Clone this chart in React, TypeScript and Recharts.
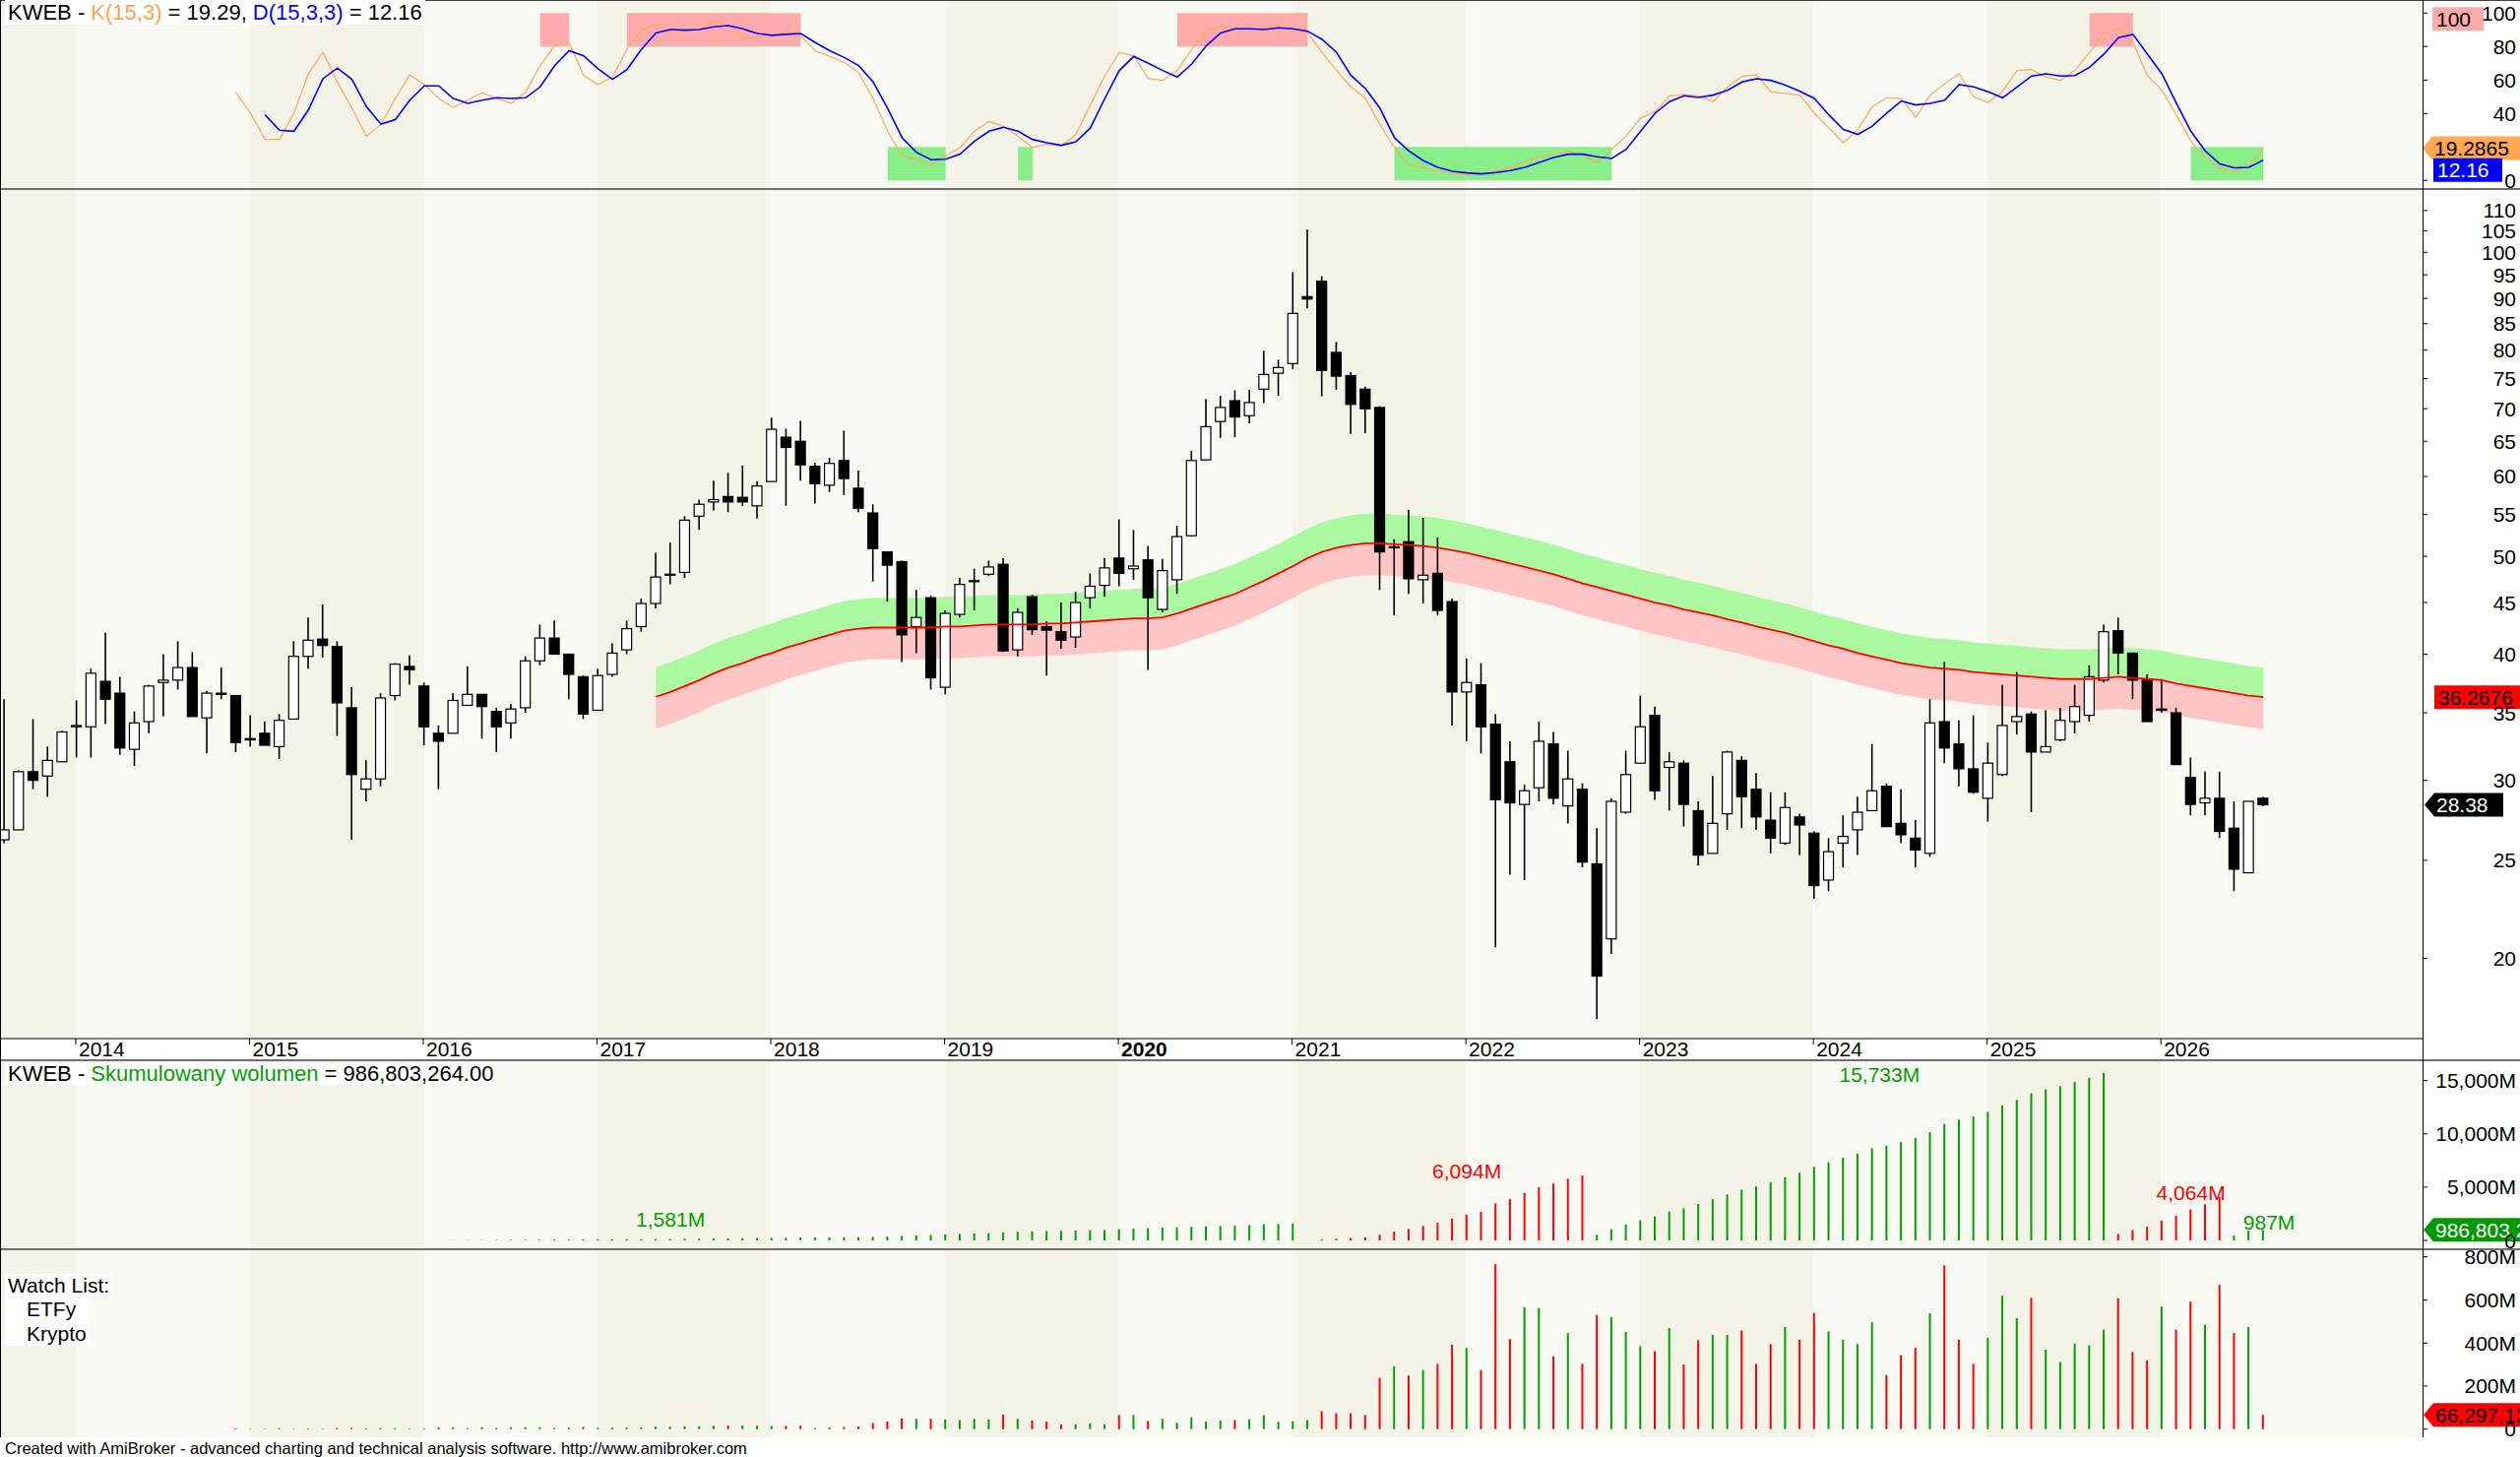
import React from 'react'
import { Area, Bar, ComposedChart, Line, ReferenceArea, ReferenceDot, XAxis, YAxis } from 'recharts'

// monthly bars, index 0 = Aug 2013
const OPEN = [26.2, 26.8, 30.6, 30.3, 31.3, 33.9, 33.9, 37.6, 36.6, 32.2, 34.3, 37.5, 37.7, 38.8, 34.6, 36.6, 36.4, 33.0, 33.4, 32.4, 34.5, 39.8, 41.4, 40.7, 35.4, 29.4, 30.1, 36.4, 38.9, 37.2, 33.4, 33.4, 35.6, 36.5, 35.1, 34.2, 35.4, 39.4, 41.5, 40.0, 38.0, 35.2, 38.2, 40.4, 42.6, 44.9, 47.9, 48.2, 54.8, 56.6, 57.3, 57.2, 56.1, 59.3, 65.6, 65.0, 61.4, 58.8, 62.2, 58.4, 55.2, 50.5, 49.4, 42.6, 45.5, 37.1, 43.8, 47.2, 48.0, 49.1, 40.4, 45.6, 42.6, 42.1, 41.6, 45.5, 46.8, 49.8, 48.6, 49.6, 44.3, 47.4, 52.4, 62.3, 68.0, 71.3, 68.9, 73.2, 75.9, 77.6, 90.4, 93.6, 79.6, 75.5, 73.2, 70.2, 51.1, 51.7, 47.4, 48.1, 45.1, 36.7, 37.3, 34.1, 31.3, 28.4, 29.5, 32.6, 28.3, 29.4, 24.8, 20.9, 27.9, 31.2, 34.8, 30.9, 31.2, 28.0, 25.4, 27.8, 31.4, 29.4, 27.4, 26.0, 27.6, 26.6, 23.9, 26.0, 26.8, 28.0, 29.6, 27.2, 26.3, 25.4, 34.3, 32.6, 30.8, 28.8, 30.4, 34.3, 34.9, 32.0, 32.9, 34.3, 34.8, 37.7, 42.2, 40.1, 37.8, 35.3, 35.0, 30.2, 28.5, 28.8, 26.9, 24.3, 28.8]
const HIGH = [36.1, 30.7, 34.5, 32.4, 33.6, 36.0, 38.7, 42.0, 38.0, 35.1, 37.3, 40.0, 41.2, 40.2, 36.8, 38.8, 36.4, 34.8, 34.3, 34.9, 41.2, 43.5, 44.8, 41.2, 37.1, 31.4, 36.6, 39.2, 39.9, 37.5, 34.0, 36.6, 38.9, 36.5, 35.4, 35.7, 39.8, 42.8, 43.2, 40.0, 38.1, 38.7, 41.0, 43.2, 45.4, 50.4, 51.6, 54.8, 56.9, 59.4, 60.5, 61.5, 59.3, 68.6, 66.9, 68.1, 61.9, 62.6, 66.6, 60.8, 56.3, 50.5, 49.5, 46.3, 45.7, 44.2, 47.6, 48.6, 49.5, 49.8, 44.4, 45.8, 43.1, 45.0, 46.1, 48.1, 49.8, 54.4, 53.1, 51.2, 49.7, 53.6, 63.6, 71.6, 72.1, 73.0, 73.1, 79.9, 78.3, 95.6, 105.3, 94.7, 81.5, 76.1, 73.6, 70.4, 52.0, 55.6, 54.6, 52.2, 45.4, 39.6, 39.2, 34.9, 32.8, 29.7, 34.3, 33.5, 32.1, 29.8, 26.9, 28.8, 32.1, 36.4, 35.5, 32.0, 31.4, 28.6, 30.3, 32.1, 31.7, 30.5, 29.2, 29.2, 27.8, 26.7, 26.3, 27.7, 28.9, 32.6, 29.8, 29.4, 27.4, 36.1, 39.3, 34.4, 34.8, 32.7, 37.3, 38.4, 35.1, 35.2, 35.4, 37.3, 39.0, 42.8, 43.5, 40.1, 38.2, 37.8, 35.4, 31.6, 30.6, 30.6, 28.6, 28.6, 28.9]
const LOW = [26.0, 26.8, 29.4, 28.9, 31.3, 31.6, 31.6, 34.1, 31.8, 31.0, 33.4, 34.7, 36.9, 34.7, 31.9, 36.1, 32.0, 32.4, 32.5, 31.5, 34.5, 38.7, 39.7, 33.2, 26.2, 28.6, 29.6, 36.0, 37.3, 32.5, 29.4, 33.4, 35.6, 33.0, 32.0, 33.0, 35.0, 39.0, 40.0, 36.1, 34.5, 35.2, 38.0, 40.0, 42.1, 44.4, 46.9, 47.6, 53.1, 55.5, 55.3, 56.1, 54.5, 59.3, 56.1, 59.4, 56.4, 57.9, 57.5, 55.3, 47.2, 45.1, 39.3, 40.1, 36.9, 36.5, 43.5, 44.2, 47.8, 40.2, 39.8, 41.8, 38.1, 40.5, 40.6, 44.4, 45.6, 46.7, 47.4, 38.6, 44.0, 45.9, 52.3, 62.2, 65.5, 65.6, 67.7, 70.9, 72.1, 76.6, 88.0, 72.0, 73.1, 66.1, 66.2, 46.3, 43.7, 45.9, 44.9, 43.7, 34.0, 32.8, 31.9, 20.5, 24.2, 23.9, 28.6, 28.4, 27.2, 24.6, 17.4, 20.2, 27.8, 31.2, 28.7, 28.0, 27.0, 24.7, 25.4, 26.8, 26.9, 26.8, 25.4, 25.9, 25.3, 22.9, 23.3, 24.6, 25.3, 28.0, 27.0, 26.0, 24.6, 25.2, 31.2, 29.6, 29.1, 27.3, 30.3, 33.3, 27.9, 32.0, 32.8, 33.4, 34.3, 37.5, 38.2, 36.1, 34.3, 35.0, 31.1, 27.7, 27.7, 26.3, 23.3, 24.3, 28.3]
const CLOSE = [26.8, 30.6, 30.0, 31.4, 33.5, 34.0, 38.3, 36.1, 32.3, 34.2, 37.2, 37.7, 38.8, 34.7, 36.6, 36.5, 32.7, 32.9, 32.5, 34.4, 39.8, 41.3, 40.8, 35.8, 30.4, 30.1, 36.2, 39.1, 38.6, 33.9, 32.8, 36.0, 36.5, 35.5, 33.9, 35.3, 39.4, 41.5, 40.0, 38.2, 34.9, 38.1, 40.1, 42.4, 44.9, 47.7, 48.0, 54.3, 56.3, 56.9, 56.6, 56.6, 58.7, 66.8, 64.1, 61.6, 59.0, 61.8, 59.7, 55.8, 50.9, 49.0, 41.8, 43.5, 37.9, 43.9, 46.9, 47.3, 48.8, 40.3, 44.0, 42.3, 42.25, 41.3, 45.0, 46.7, 48.7, 48.1, 48.9, 45.5, 48.4, 52.3, 62.2, 67.2, 70.2, 68.7, 71.0, 75.7, 76.9, 87.0, 89.9, 76.4, 75.4, 70.7, 70.0, 50.5, 51.0, 47.5, 47.9, 44.2, 36.7, 37.5, 33.9, 28.7, 28.5, 29.3, 32.8, 28.8, 30.1, 24.9, 19.2, 28.6, 30.4, 33.9, 29.3, 31.3, 28.4, 25.3, 27.2, 32.0, 28.9, 27.6, 26.3, 28.2, 27.1, 23.6, 25.5, 26.4, 27.9, 29.3, 27.0, 26.5, 25.6, 34.2, 32.3, 30.8, 29.2, 31.2, 34.0, 34.7, 32.0, 32.4, 34.4, 35.5, 38.0, 42.1, 40.1, 37.7, 34.3, 35.2, 31.1, 28.4, 28.8, 26.7, 24.5, 28.6, 28.38]

// moving average, first value at bar 45
const MA_START = 45
const MA = [36.3, 36.7, 37.2, 37.7, 38.3, 38.8, 39.2, 39.7, 40.1, 40.6, 41.0, 41.4, 41.8, 42.2, 42.4, 42.5, 42.5, 42.5, 42.5, 42.5, 42.6, 42.6, 42.7, 42.8, 42.8, 42.8, 42.8, 42.9, 42.9, 43.0, 43.1, 43.2, 43.3, 43.4, 43.4, 43.5, 43.9, 44.4, 44.9, 45.4, 45.9, 46.6, 47.3, 48.1, 48.9, 49.8, 50.5, 51.0, 51.3, 51.5, 51.5, 51.4, 51.3, 51.2, 51.0, 50.7, 50.4, 50.0, 49.6, 49.2, 48.8, 48.4, 48.0, 47.5, 47.0, 46.6, 46.2, 45.8, 45.4, 45.0, 44.7, 44.3, 44.0, 43.7, 43.3, 43.0, 42.6, 42.3, 42.0, 41.6, 41.2, 40.8, 40.5, 40.1, 39.8, 39.5, 39.2, 39.0, 38.8, 38.7, 38.6, 38.4, 38.3, 38.2, 38.1, 38.0, 37.9, 37.8, 37.8, 37.8, 37.9, 38.0, 37.9, 37.8, 37.7, 37.4, 37.2, 37.0, 36.8, 36.6, 36.4, 36.2676]
const BAND = 0.07

// stochastic
const K_START = 16
const K = [52.4, 40.2, 24.5, 24.5, 40.2, 63.7, 76.5, 58.8, 43.1, 26.5, 33.3, 49.0, 63.1, 57.3, 49.0, 43.5, 48.0, 52.4, 49.0, 46.1, 52.9, 68.6, 80.4, 82.4, 62.7, 57.3, 61.8, 78.4, 90.2, 93.1, 88.2, 89.2, 90.2, 95.1, 92.2, 85.3, 85.3, 87.3, 88.8, 86.3, 77.5, 74.1, 70.6, 64.3, 49.0, 29.4, 14.7, 13.1, 8.8, 14.7, 19.6, 29.4, 35.3, 32.4, 26.5, 19.6, 21.6, 20.6, 27.5, 45.1, 62.7, 76.5, 74.5, 60.8, 59.8, 65.7, 78.4, 89.2, 92.2, 91.2, 90.6, 91.2, 92.5, 89.8, 88.2, 76.5, 65.7, 55.9, 49.0, 33.3, 19.6, 9.2, 7.8, 5.5, 3.9, 3.5, 3.9, 5.9, 7.8, 11.4, 14.1, 15.7, 17.3, 15.7, 10.4, 18.6, 26.5, 37.3, 41.2, 50.6, 51.4, 50.6, 47.1, 55.9, 62.2, 63.1, 52.9, 52.0, 51.0, 40.2, 31.4, 22.5, 30.4, 44.1, 49.4, 49.0, 37.8, 51.0, 57.8, 63.7, 50.0, 46.7, 53.3, 65.7, 66.3, 61.8, 59.8, 65.7, 76.5, 88.2, 90.2, 82.4, 62.7, 53.9, 39.2, 23.5, 13.7, 7.5, 5.5, 8.8, 19.29]
const D_START = 18
const D = [39.2, 30.0, 29.4, 42.2, 60.8, 67.1, 60.4, 44.1, 33.7, 36.3, 48.0, 56.5, 56.5, 49.0, 46.1, 48.0, 49.4, 49.0, 49.4, 55.9, 68.6, 77.5, 74.5, 66.7, 60.4, 66.3, 78.4, 88.2, 90.2, 89.8, 90.2, 91.8, 92.5, 90.6, 87.8, 86.7, 87.3, 87.8, 82.4, 77.5, 73.5, 68.6, 58.8, 43.1, 25.5, 16.7, 12.4, 12.7, 15.7, 23.5, 29.4, 31.8, 29.4, 24.5, 22.5, 21.0, 23.1, 31.4, 49.0, 65.7, 74.1, 70.0, 65.7, 61.8, 69.6, 80.4, 88.2, 90.6, 90.6, 90.2, 91.2, 90.6, 89.2, 84.3, 76.5, 62.7, 54.9, 43.1, 25.5, 17.6, 11.8, 7.8, 5.5, 4.5, 3.9, 4.7, 5.9, 7.8, 10.8, 13.7, 15.7, 15.7, 14.1, 13.1, 18.6, 29.4, 40.2, 47.1, 50.6, 49.6, 51.0, 53.9, 58.8, 60.8, 59.8, 56.9, 53.3, 49.0, 39.2, 30.4, 27.5, 32.4, 40.2, 47.5, 45.1, 46.1, 48.0, 57.3, 55.9, 52.9, 49.4, 55.9, 62.4, 63.7, 62.4, 62.7, 67.6, 75.5, 85.3, 87.3, 75.5, 63.7, 46.1, 29.4, 17.6, 9.8, 7.5, 7.8, 12.16]
// shaded overbought / oversold spans [from bar, to bar]
const OVERBOUGHT = [[37, 39], [43, 55], [81, 90], [144, 147]]
const OVERSOLD = [[61, 65], [70, 71], [96, 111], [151, 156]]

// volume in millions, first value at bar 16
const VOL_START = 16
const VOLUME = [4, 2, 2, 5, 2, 3, 2, 5, 6, 3, 5, 5, 2, 3, 8, 8, 5, 9, 5, 9, 9, 9, 5, 6, 10, 6, 7, 7, 8, 12, 12, 13, 13, 16, 16, 17, 16, 15, 15, 16, 5, 8, 10, 12, 28, 35, 50, 48, 48, 45, 42, 48, 45, 68, 48, 40, 35, 22, 22, 27, 22, 66, 66, 38, 48, 30, 55, 35, 40, 42, 46, 65, 34, 36, 42, 83, 74, 74, 65, 238, 292, 249, 274, 303, 392, 377, 274, 766, 418, 566, 562, 338, 446, 303, 530, 520, 451, 385, 362, 469, 300, 412, 438, 438, 458, 303, 395, 474, 415, 540, 454, 415, 395, 496, 251, 343, 377, 538, 760, 415, 303, 423, 620, 515, 610, 369, 311, 397, 389, 462, 608, 358, 320, 569, 462, 592, 485, 670, 447, 474, 66.3]

// cumulative volume (millions), first value at bar 30
const CUM_START = 30
const CUM_VOLUME = [8, 16, 21, 30, 35, 44, 53, 62, 67, 73, 83, 89, 96, 103, 111, 123, 135, 148, 161, 177, 193, 210, 226, 241, 256, 272, 277, 285, 295, 307, 335, 370, 420, 468, 516, 561, 603, 651, 696, 764, 812, 852, 887, 909, 931, 958, 980, 1046, 1112, 1150, 1198, 1228, 1283, 1318, 1358, 1400, 1446, 1511, 1545, 1581, null, 83, 157, 231, 296, 534, 826, 1075, 1349, 1652, 2044, 2421, 2695, 3461, 3879, 4445, 5007, 5345, 5791, 6094, 530, 1050, 1501, 1886, 2248, 2717, 3017, 3429, 3867, 4305, 4763, 5066, 5461, 5935, 6350, 6890, 7344, 7759, 8154, 8650, 8901, 9244, 9621, 10159, 10919, 11334, 11637, 12060, 12680, 13195, 13805, 14174, 14485, 14882, 15271, 15733, 608, 966, 1286, 1855, 2317, 2909, 3394, 4064, 447, 921, 987]
const CUM_SEGMENTS = [
    { from: 30, to: 89, up: true },
    { from: 91, to: 109, up: false },
    { from: 110, to: 145, up: true },
    { from: 146, to: 153, up: false },
    { from: 154, to: 156, up: true },
]
const CUM_LABELS = [
    { at: 46, level: 2000, text: '1,581M', up: true },
    { at: 101, level: 6470, text: '6,094M', up: false },
    { at: 129.5, level: 15550, text: '15,733M', up: true },
    { at: 151, level: 4470, text: '4,064M', up: false },
    { at: 156.4, level: 1690, text: '987M', up: true },
]

const YEAR_LABELS = ['2014', '2015', '2016', '2017', '2018', '2019', '2020', '2021', '2022', '2023', '2024', '2025', '2026']
const YEAR_FIRST_BAR = [5, 17, 29, 41, 53, 65, 77, 89, 101, 113, 125, 137, 149]

const PRICE_TICKS = [20, 25, 30, 35, 40, 45, 50, 55, 60, 65, 70, 75, 80, 85, 90, 95, 100, 105, 110]
const STOCH_TICKS = [0, 40, 60, 80, 100]
const CUM_TICKS = [0, 5000, 10000, 15000]
const VOL_TICKS = [0, 200, 400, 600, 800]

const FONT = '"Liberation Sans", Arial, sans-serif'
const W = 2560
const AXIS_X = 2461
const X_MIN = -0.3025
const X_MAX = 167.0
const LAST = CLOSE.length - 1
const GREEN = '#00a000'
const RED = '#ff0000'

const segUp = (i: number) => {
    const s = CUM_SEGMENTS.find((g) => i >= g.from && i <= g.to)
    return s ? s.up : true
}

const rows = OPEN.map((o, i) => ({
    i,
    o,
    h: HIGH[i],
    l: LOW[i],
    c: CLOSE[i],
    ma: i >= MA_START ? MA[i - MA_START] : null,
    k: i >= K_START ? K[i - K_START] : null,
    d: i >= D_START ? D[i - D_START] : null,
    vol: i >= VOL_START ? VOLUME[i - VOL_START] : null,
    volUp: i > 0 ? CLOSE[i] >= CLOSE[i - 1] : true,
    cum: i >= CUM_START ? CUM_VOLUME[i - CUM_START] : null,
    cumUp: segUp(i),
}))

const edges = [X_MIN, ...YEAR_FIRST_BAR.map((b) => b - 0.07), X_MAX]
const yearBands = edges.slice(0, -1).map((x1, k) => ({ x1, x2: edges[k + 1], dark: k % 2 === 0 }))

const bandAreas = () =>
    yearBands.map((b, k) => (
        <ReferenceArea key={'yb' + k} x1={b.x1} x2={b.x2} fill={b.dark ? '#f3f3e7' : '#f9f9f4'} fillOpacity={1} stroke="none" />
    ))

const axisTick = (fmt: (v: number) => string) => (props: any) => {
    const { y, payload } = props
    return (
        <g>
            <line x1={AXIS_X} x2={AXIS_X + 5} y1={y} y2={y} stroke="#000" />
            <text x={W - 4} y={y} textAnchor="end" dominantBaseline="central" fontSize={21} fontFamily={FONT} fill="#000">
                {fmt(payload.value)}
            </text>
        </g>
    )
}

type BoxSpec = { x: number; w: number; dy: number; bg: string; fg: string; text: string; arrow: boolean }
const valueBox = (b: BoxSpec) => (props: any) => {
    const cy = props.cy + b.dy
    const h = 24
    const d = b.arrow
        ? `M${b.x},${cy} L${b.x + 10},${cy - h / 2} L${b.x + b.w},${cy - h / 2} L${b.x + b.w},${cy + h / 2} L${b.x + 10},${cy + h / 2} Z`
        : `M${b.x},${cy - h / 2} h${b.w} v${h} h${-b.w} Z`
    return (
        <g>
            <path d={d} fill={b.bg} />
            <text x={b.x + (b.arrow ? 12 : 4)} y={cy} dominantBaseline="central" fontSize={21} fontFamily={FONT} fill={b.fg}>
                {b.text}
            </text>
        </g>
    )
}

const Candle = (props: any) => {
    const { x, y, width, height, payload } = props
    if (!payload || payload.h == null) return null
    const { o, h, l, c } = payload
    const mid = x + width / 2
    const span = Math.log(h) - Math.log(l)
    const yAt = (p: number) => (span > 0 ? y + (height * (Math.log(h) - Math.log(p))) / span : y)
    const top = yAt(Math.max(o, c))
    const bot = yAt(Math.min(o, c))
    const up = c >= o
    return (
        <g>
            <line x1={mid} x2={mid} y1={y} y2={y + height} stroke="#000" strokeWidth={1.6} />
            <rect x={mid - 5} y={top} width={10} height={Math.max(bot - top, 1)} fill={up ? '#fff' : '#000'} stroke="#000" strokeWidth={1.2} />
        </g>
    )
}

const thinBar = (key: 'volUp' | 'cumUp') => (props: any) => {
    const { x, y, width, height, payload } = props
    if (height == null || height <= 0) return null
    return <rect x={x} y={y} width={width} height={height} fill={payload[key] ? GREEN : RED} />
}

const xAxisHidden = <XAxis type="number" dataKey="i" domain={[X_MIN, X_MAX]} allowDataOverflow hide />

const YearTick = (props: any) => {
    const { x, payload } = props
    const k = YEAR_FIRST_BAR.findIndex((b) => Math.abs(b - 0.07 - payload.value) < 0.5)
    if (k < 0) return null
    const label = YEAR_LABELS[k]
    return (
        <g>
            <line x1={x} x2={x} y1={862} y2={868} stroke="#000" />
            <text x={x + 3} y={880} fontSize={21} fontFamily={FONT} fontWeight={label === '2020' ? 'bold' : 'normal'} fill="#000">
                {label}
            </text>
        </g>
    )
}

const StochChart = () => (
    <ComposedChart width={W} height={191} data={rows} margin={{ top: 0, right: 0, bottom: 0, left: 0 }}>
        {xAxisHidden}
        <YAxis orientation="right" width={99} domain={[-4.53, 107.82]} allowDataOverflow ticks={STOCH_TICKS} interval={0} axisLine={false} tickLine={false} tick={axisTick((v) => String(v))} />
        {bandAreas()}
        {OVERBOUGHT.map(([a, b], k) => (
            <ReferenceArea key={'ob' + k} x1={a} x2={b} y1={80} y2={100} fill="#ffaaaa" fillOpacity={1} stroke="none" />
        ))}
        {OVERSOLD.map(([a, b], k) => (
            <ReferenceArea key={'os' + k} x1={a} x2={b} y1={0} y2={20} fill="#88ee88" fillOpacity={1} stroke="none" />
        ))}
        <Line dataKey="k" stroke="#ffaa60" strokeWidth={1.3} dot={false} isAnimationActive={false} />
        <Line dataKey="d" stroke="#0000ff" strokeWidth={1.6} dot={false} isAnimationActive={false} />
        <ReferenceDot x={LAST} y={100} r={0} ifOverflow="visible" shape={valueBox({ x: 2471, w: 52, dy: 6, bg: '#ffaaaa', fg: '#000', text: '100', arrow: false })} />
        <ReferenceDot x={LAST} y={K[K.length - 1]} r={0} ifOverflow="visible" shape={valueBox({ x: 2461, w: 110, dy: 0, bg: '#ffa850', fg: '#000', text: '19.2865', arrow: true })} />
        <ReferenceDot x={LAST} y={D[D.length - 1]} r={0} ifOverflow="visible" shape={valueBox({ x: 2472, w: 70, dy: 10, bg: '#0000ff', fg: '#fff', text: '12.16', arrow: false })} />
    </ComposedChart>
)

const PriceChart = () => (
    <ComposedChart width={W} height={883} data={rows} margin={{ top: 0, right: 0, bottom: 0, left: 0 }}>
        <XAxis type="number" dataKey="i" domain={[X_MIN, X_MAX]} allowDataOverflow height={21} ticks={YEAR_FIRST_BAR.map((b) => b - 0.07)} interval={0} axisLine={{ stroke: '#000' }} tickLine={false} tick={YearTick} />
        <YAxis orientation="right" width={99} scale="log" domain={[16.65, 115.27]} allowDataOverflow ticks={PRICE_TICKS} interval={0} axisLine={false} tickLine={false} tick={axisTick((v) => String(v))} />
        {bandAreas()}
        <Area dataKey={(r: any) => (r.ma == null ? null : [r.ma, r.ma * (1 + BAND)])} stroke="none" fill="#aaf8a0" fillOpacity={1} isAnimationActive={false} />
        <Area dataKey={(r: any) => (r.ma == null ? null : [r.ma * (1 - BAND), r.ma])} stroke="none" fill="#ffc4c4" fillOpacity={1} isAnimationActive={false} />
        <Line dataKey="ma" stroke={RED} strokeWidth={1.8} dot={false} isAnimationActive={false} />
        <Bar dataKey={(r: any) => [r.l, r.h]} barSize={10} shape={Candle} isAnimationActive={false} />
        <ReferenceDot x={LAST} y={MA[MA.length - 1]} r={0} ifOverflow="visible" shape={valueBox({ x: 2473, w: 100, dy: 0, bg: RED, fg: '#000', text: '36.2676', arrow: false })} />
        <ReferenceDot x={LAST} y={CLOSE[LAST]} r={0} ifOverflow="visible" shape={valueBox({ x: 2463, w: 80, dy: 0, bg: '#000', fg: '#fff', text: '28.38', arrow: true })} />
    </ComposedChart>
)

const CumChart = () => (
    <ComposedChart width={W} height={190} data={rows} margin={{ top: 0, right: 0, bottom: 0, left: 0 }}>
        {xAxisHidden}
        <YAxis orientation="right" width={99} domain={[-739, 16819]} allowDataOverflow ticks={CUM_TICKS} interval={0} axisLine={false} tickLine={false} tick={axisTick((v) => (v === 0 ? '0' : v.toLocaleString('en-US') + 'M'))} />
        {bandAreas()}
        <Bar dataKey="cum" barSize={2} shape={thinBar('cumUp')} isAnimationActive={false} />
        {CUM_LABELS.map((lb, k) => (
            <ReferenceDot
                key={'cl' + k}
                x={lb.at}
                y={lb.level}
                r={0}
                ifOverflow="visible"
                shape={(p: any) => (
                    <text x={p.cx} y={p.cy} textAnchor="middle" dominantBaseline="central" fontSize={21} fontFamily={FONT} fill={lb.up ? GREEN : RED}>
                        {lb.text}
                    </text>
                )}
            />
        ))}
        <ReferenceDot x={LAST} y={CUM_VOLUME[CUM_VOLUME.length - 1]} r={0} ifOverflow="visible" shape={valueBox({ x: 2462, w: 110, dy: 0, bg: '#009900', fg: '#fff', text: '986,803,264', arrow: true })} />
    </ComposedChart>
)

const VolChart = () => (
    <ComposedChart width={W} height={190} data={rows} margin={{ top: 0, right: 0, bottom: 0, left: 0 }}>
        {xAxisHidden}
        <YAxis orientation="right" width={99} domain={[-37.9, 830.6]} allowDataOverflow ticks={VOL_TICKS} interval={0} axisLine={false} tickLine={false} tick={axisTick((v) => (v === 0 ? '0' : v + 'M'))} />
        {bandAreas()}
        <Bar dataKey="vol" barSize={2} shape={thinBar('volUp')} isAnimationActive={false} />
        <ReferenceDot x={LAST} y={VOLUME[VOLUME.length - 1]} r={0} ifOverflow="visible" shape={valueBox({ x: 2462, w: 110, dy: 0, bg: RED, fg: '#000', text: '66,297,120', arrow: true })} />
    </ComposedChart>
)

const abs = (top: number, left = 0): React.CSSProperties => ({ position: 'absolute', top, left })
const hLine = (top: number, h: number, color: string) => (
    <div style={{ position: 'absolute', top, left: 0, width: W, height: h, background: color }} />
)

export default function App() {
    return (
        <div style={{ position: 'absolute', left: 0, top: 0, width: W, height: 1480, background: '#fff', overflow: 'hidden', fontFamily: FONT, color: '#000' }}>
            <div style={abs(0)}><StochChart /></div>
            <div style={abs(193)}><PriceChart /></div>
            <div style={abs(1078)}><CumChart /></div>
            <div style={abs(1270)}><VolChart /></div>

            {hLine(0, 1, '#404040')}
            {hLine(191, 2, '#707070')}
            {hLine(1076, 2, '#707070')}
            {hLine(1268, 2, '#707070')}
            <div style={{ position: 'absolute', left: 0, top: 0, width: 1, height: 1460, background: '#000' }} />
            <div style={{ position: 'absolute', left: AXIS_X, top: 0, width: 1, height: 1460, background: '#000' }} />

            <div style={{ position: 'absolute', left: 5, top: 0, height: 25, lineHeight: '25px', fontSize: 22, background: '#fff', padding: '0 3px', whiteSpace: 'nowrap' }}>
                KWEB - <span style={{ color: '#ffa050' }}>K(15,3)</span> = 19.29, <span style={{ color: '#0000ff' }}>D(15,3,3)</span> = 12.16
            </div>
            <div style={{ position: 'absolute', left: 5, top: 1080, height: 22, lineHeight: '22px', fontSize: 22, background: '#fff', padding: '0 3px', whiteSpace: 'nowrap' }}>
                KWEB - <span style={{ color: GREEN }}>Skumulowany wolumen</span> = 986,803,264.00
            </div>
            <div style={{ position: 'absolute', left: 5, top: 1294, lineHeight: '24px', fontSize: 21, background: '#fff', padding: '0 3px', whiteSpace: 'nowrap' }}>
                Watch List:
            </div>
            <div style={{ position: 'absolute', left: 5, top: 1318, lineHeight: '24.5px', fontSize: 21, background: '#fff', padding: '0 3px 0 22px', whiteSpace: 'nowrap' }}>
                <div>ETFy</div>
                <div>Krypto</div>
            </div>
            <div style={{ position: 'absolute', left: 5, top: 1461, lineHeight: '20px', fontSize: 16.5, whiteSpace: 'nowrap' }}>
                Created with AmiBroker - advanced charting and technical analysis software. http://www.amibroker.com
            </div>
        </div>
    )
}
